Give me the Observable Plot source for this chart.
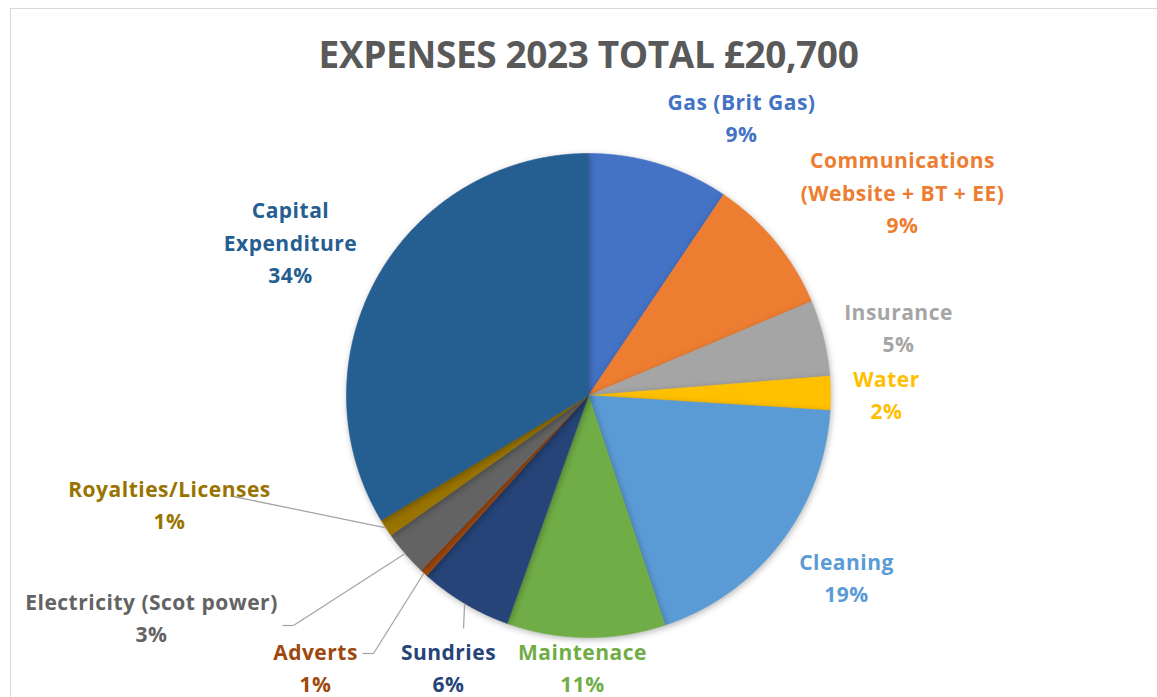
<!DOCTYPE html>
<html><head><meta charset="utf-8">
<script src="https://cdn.jsdelivr.net/npm/d3@7"></script>
<script src="https://cdn.jsdelivr.net/npm/@observablehq/plot@0.6"></script>
<style>
html,body{margin:0;padding:0;background:#fff;overflow:hidden}
#wrap{position:relative;width:1157px;height:697px;overflow:hidden}
#frame{position:absolute;left:10px;top:8px;width:1300px;height:800px;border:1.5px solid #d9d9d9;box-sizing:border-box}
#title{position:relative;height:80px;box-sizing:border-box;padding-top:35px;padding-left:20px;text-align:center;font-family:"Open Sans",sans-serif;font-weight:bold;font-size:37px;line-height:37px;color:#595959;white-space:nowrap;letter-spacing:-0.4px}
#chart{position:relative}
#chart svg g[aria-label="line"]{filter:drop-shadow(1px 2px 3px rgba(0,0,0,0.28))}
#chart svg g[aria-label="text"]{letter-spacing:0.5px}
</style>
</head><body>
<div id="wrap"><div id="frame"></div><div id="title"></div><div id="chart"></div></div>
<script>
// ---- data ----
const titleText = "EXPENSES 2023 TOTAL £20,700";
const categories = ["Gas (Brit Gas)", "Communications\n(Website + BT + EE)", "Insurance", "Water", "Cleaning", "Maintenace", "Sundries", "Adverts", "Electricity (Scot power)", "Royalties/Licenses", "Capital\nExpenditure"];
const amounts = [1950, 1910, 1050, 470, 3910, 2190, 1280, 105, 630, 245, 6960];
const colors = ["#4472C4", "#ED7D31", "#A5A5A5", "#FFC000", "#5B9BD5", "#70AD47", "#264478", "#9E480E", "#636363", "#997300", "#255E91"];

// ---- layout (page pixels) ----
const W = 1157, H = 697, TOP = 80;
const cx = 588, cy = 395, R = 242;
const labelPos = [[741,118],[902,193],[898,328],[886,395],[846,578],[582,668],[448,668],[315,668],[151,618],[169,505],[290,243]];
// leader line bends/ends for labels placed away from their slice
const leaderPath = {6: [[463,628]], 7: [[373,653],[362,653]], 8: [[293,625],[282,625]], 9: [[233,496]]};

document.getElementById("title").textContent = titleText;

const arcs = d3.pie().sort(null).value(d => d)(amounts);
const pct = d3.format(".0%");
const total = d3.sum(amounts);

const slices = arcs.map((a, i) => {
  const n = Math.max(4, Math.ceil((a.endAngle - a.startAngle) / 0.005));
  const pts = [{x: cx, y: cy}];
  for (let k = 0; k <= n; k++) {
    const t = a.startAngle + (a.endAngle - a.startAngle) * k / n;
    pts.push({x: cx + R * Math.sin(t), y: cy - R * Math.cos(t)});
  }
  pts.push({x: cx, y: cy});
  return pts;
});

const segments = [];
for (const [k, path] of Object.entries(leaderPath)) {
  const a = arcs[+k];
  const m = (a.startAngle + a.endAngle) / 2;
  let prev = [cx + R * Math.sin(m), cy - R * Math.cos(m)];
  for (const p of path) { segments.push({x1: prev[0], y1: prev[1], x2: p[0], y2: p[1]}); prev = p; }
}

const labels = categories.map((c, i) => ({
  x: labelPos[i][0], y: labelPos[i][1] - 3,
  text: c + "\n" + pct(amounts[i] / total),
  color: colors[i]
}));

const plot = Plot.plot({
  width: W, height: H - TOP,
  margin: 0,
  x: {domain: [0, W], range: [0, W], axis: null},
  y: {domain: [TOP, H], range: [0, H - TOP], axis: null},
  color: {type: "identity"},
  style: {background: "transparent", overflow: "visible"},
  marks: [
    ...slices.map((pts, i) => Plot.line(pts, {x: "x", y: "y", fill: colors[i], stroke: colors[i], strokeWidth: 0.6})),
    Plot.link(segments, {x1: "x1", y1: "y1", x2: "x2", y2: "y2", stroke: "#a6a6a6", strokeWidth: 1.3}),
    Plot.text(labels, {x: "x", y: "y", text: "text", fill: "color", fontSize: 21, fontWeight: "bold", fontFamily: "'Open Sans', sans-serif", lineHeight: 1.55, textAnchor: "middle"})
  ]
});
document.getElementById("chart").appendChild(plot);
</script>
</body></html>
